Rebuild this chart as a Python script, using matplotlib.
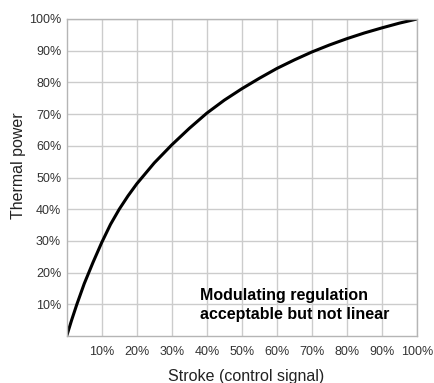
import matplotlib.pyplot as plt

plt.rcParams['font.family'] = ['Liberation Sans', 'DejaVu Sans']

# stroke (%) vs thermal power (%)
stroke = [0, 1.4, 2.9, 5, 7.5, 10, 12.5, 15, 17.5, 20, 25, 30, 35, 40, 45,
          50, 55, 60, 65, 70, 75, 80, 85, 90, 95, 100]
power = [0, 5, 10, 16.5, 23.2, 29.5, 35.2, 40, 44.2, 48, 54.6, 60.3, 65.5, 70.3,
         74.4, 78, 81.3, 84.4, 87.1, 89.6, 91.8, 93.8, 95.6, 97.2, 98.7, 100]
ticks = [10, 20, 30, 40, 50, 60, 70, 80, 90, 100]
tick_labels = [str(t) + '%' for t in ticks]

fig = plt.figure(figsize=(4.34, 3.83), dpi=100)
ax = fig.add_axes([0.1537, 0.1227, 0.8071, 0.8277])

ax.plot(stroke, power, color='black', linewidth=2.2, solid_capstyle='round',
        solid_joinstyle='round')

ax.set_xlim(0, 100)
ax.set_ylim(0, 100)
ax.set_xticks(ticks)
ax.set_yticks(ticks)
ax.set_xticklabels(tick_labels)
ax.set_yticklabels(tick_labels)
ax.tick_params(length=0, labelsize=9, colors='#333333')
ax.tick_params(axis='x', pad=7)
ax.tick_params(axis='y', pad=4)
ax.grid(True, color='#cccccc', linewidth=1)
ax.set_axisbelow(True)
for s in ax.spines.values():
    s.set_color('#b5b5b5')
    s.set_linewidth(1)

fig.text(246 / 434, 1 - 376 / 383, 'Stroke (control signal)', fontsize=11.5,
         color='#222222', ha='center', va='center')
fig.text(19 / 434, 1 - 165.5 / 383, 'Thermal power', fontsize=11.5,
         color='#222222', ha='center', va='center', rotation=90)

ax.text(38.05, 5.36, 'Modulating regulation\nacceptable but not linear',
        fontsize=11.5, fontweight='bold', color='black', va='baseline', ha='left',
        linespacing=1.37)

fig.savefig('out.png', dpi=100)
